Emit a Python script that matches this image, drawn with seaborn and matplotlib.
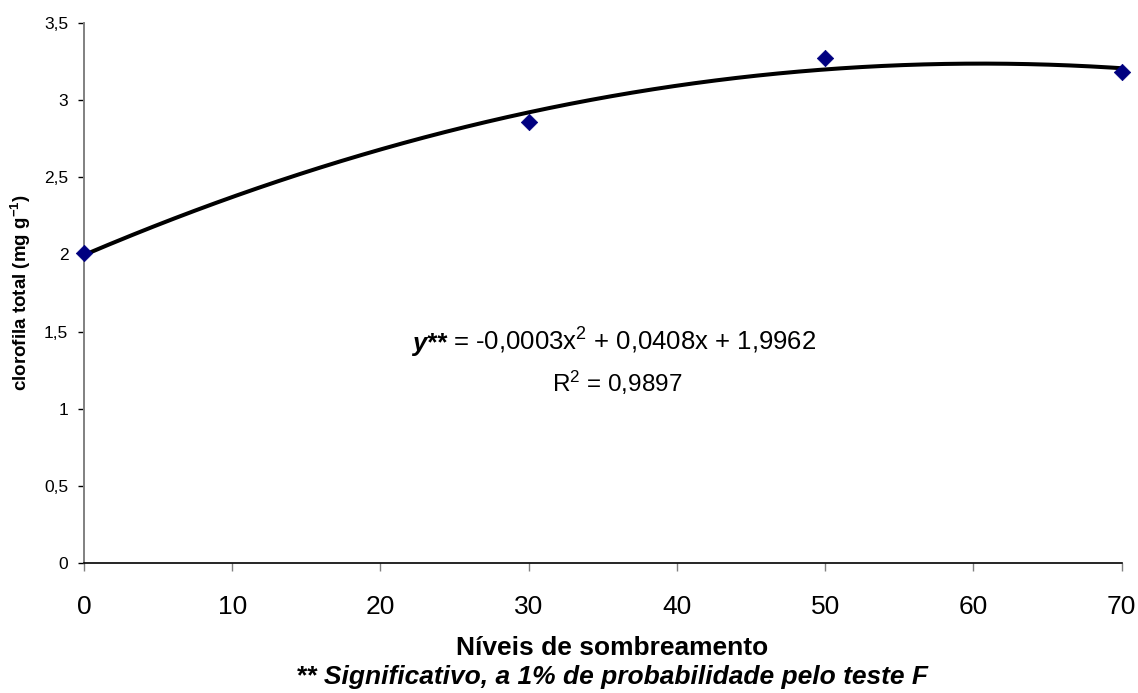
import numpy as np
import pandas as pd
import matplotlib
matplotlib.use("Agg")
import matplotlib.pyplot as plt
import seaborn as sns

# Shading levels (%) and measured total chlorophyll (mg g-1)
shade_levels = [0, 30, 50, 70]
chlorophyll = [2.01, 2.86, 3.27, 3.18]

x_ticks = [0, 10, 20, 30, 40, 50, 60, 70]
y_ticks = [0, 0.5, 1, 1.5, 2, 2.5, 3, 3.5]
y_tick_labels = ["0", "0,5", "1", "1,5", "2", "2,5", "3", "3,5"]

equation_text = " = -0,0003x$^2$ + 0,0408x + 1,9962"
r2_text = "R$^2$ = 0,9897"

sns.set_style("white")
plt.rcParams["font.family"] = ["Liberation Sans", "DejaVu Sans"]
plt.rcParams["mathtext.fontset"] = "custom"
plt.rcParams["mathtext.rm"] = "Liberation Sans"
plt.rcParams["mathtext.it"] = "Liberation Sans:italic"
plt.rcParams["mathtext.bf"] = "Liberation Sans:bold"
plt.rcParams["text.color"] = "black"
plt.rcParams["axes.labelcolor"] = "black"
plt.rcParams["xtick.color"] = "black"
plt.rcParams["ytick.color"] = "black"

df = pd.DataFrame({"shade": shade_levels, "chl": chlorophyll})

# Second-order polynomial trendline fitted to the observations
coef = np.polyfit(df["shade"], df["chl"], 2)
xs = np.linspace(0, 70, 300)
trend = pd.DataFrame({"shade": xs, "chl": np.polyval(coef, xs)})

fig = plt.figure(figsize=(11.38, 6.93), dpi=100)
ax = fig.add_axes([84 / 1138, 1 - 563.3 / 693, (1121.7 - 84) / 1138, (563.3 - 22.8) / 693])

sns.lineplot(data=trend, x="shade", y="chl", ax=ax, color="black", linewidth=2.9,
             clip_on=False, zorder=3)
sns.scatterplot(data=df, x="shade", y="chl", ax=ax, marker="D", s=70, color="#000080",
                edgecolor="#000080", linewidth=0.5, clip_on=False, zorder=4)

ax.set_xlim(0, 70)
ax.set_ylim(0, 3.5)
ax.set_xticks(x_ticks)
ax.set_xticklabels([str(v) for v in x_ticks], fontsize=19)
ax.set_yticks(y_ticks)
ax.set_yticklabels(y_tick_labels, fontsize=12.5)

for side in ("top", "right"):
    ax.spines[side].set_visible(False)
ax.spines["left"].set_color("#808080")
ax.spines["left"].set_linewidth(1.4)
ax.spines["bottom"].set_color("black")
ax.spines["bottom"].set_linewidth(1.2)

ax.tick_params(axis="x", which="major", direction="out", length=6, width=1,
               color="#808080", pad=17, bottom=True)
ax.tick_params(axis="y", which="major", direction="out", length=4.3, width=1,
               color="black", pad=7, left=True)

ax.set_xlabel("")
ax.set_ylabel("clorofila total (mg g$^{\\mathbf{-1}}$)", fontsize=13.5, fontweight="bold",
              labelpad=8)

fig.text(0.5375, 1 - 648 / 693, "Níveis de sombreamento", ha="center", va="center",
         fontsize=19, fontweight="bold")
fig.text(0.5375, 1 - 677 / 693, "** Significativo, a 1% de probabilidade pelo teste F",
         ha="center", va="center", fontsize=19, fontweight="bold", style="italic")

# Regression equation: bold italic "y**" followed by the rest of the line
t1 = ax.text(22.1, 1.42, "y**", fontsize=18.5, fontweight="bold", style="italic",
             ha="left", va="center")
ax.annotate(equation_text, xy=(1, 0), xycoords=t1, ha="left", va="bottom", fontsize=18.5)
ax.text(36.0, 1.17, r2_text, fontsize=17.5, ha="center", va="center")

fig.savefig("out.png", dpi=100)
